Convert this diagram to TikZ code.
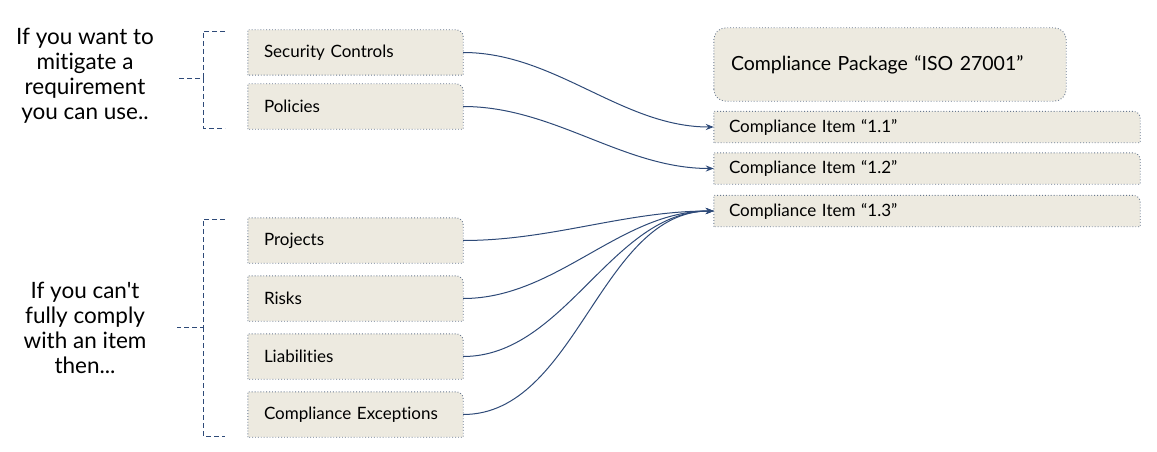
\documentclass[tikz,border=0pt]{standalone}
\usepackage{fontspec}
\setmainfont{Lato}[Ligatures={TeXOff,NoCommon}]
\usetikzlibrary{arrows.meta,positioning,backgrounds}
\definecolor{boxfill}{HTML}{EDEAE0}
\definecolor{linkblue}{HTML}{2E4A78}
\definecolor{edgegray}{HTML}{6A7A90}

\tikzset{
  srcbox/.style={minimum width=215pt, minimum height=45pt, inner sep=0pt,
    text width=183pt, align=left, font=\fontsize{17}{20}\selectfont},
  itembox/.style={minimum width=426pt, minimum height=31pt, inner sep=0pt,
    text width=396pt, align=left, font=\fontsize{17}{20}\selectfont},
  outline/.style={fill=boxfill, draw=edgegray, dotted, line width=0.9pt},
  brace/.style={draw=linkblue, dash pattern=on 5pt off 3pt, line width=0.9pt},
  link/.style={draw=linkblue, line width=1pt, -{Stealth[length=8pt,width=6pt]}},
  note/.style={align=center, font=\fontsize{22.5}{25}\selectfont}
}

\begin{document}
\begin{tikzpicture}[x=1pt,y=-1pt]
  \useasboundingbox (0,0) rectangle (1157,452);

  % Sources on the left
  \node[srcbox] (ctrl) at (355.5,52.5) {Security Controls};
  \node[srcbox] (pol)  at (355.5,106.5) {Policies};
  \node[srcbox] (proj) at (355.5,240.5) {Projects};
  \node[srcbox] (risk) at (355.5,298.5) {Risks};
  \node[srcbox] (liab) at (355.5,356.5) {Liabilities};
  \node[srcbox] (exc)  at (355.5,414.5) {Compliance Exceptions};

  % Package and its items
  \node[minimum width=352pt, minimum height=73pt, inner sep=0pt, text width=318pt,
    align=left, font=\fontsize{19.5}{22}\selectfont] (pkg) at (890,64.5)
    {Compliance Package “ISO 27001”};
  \node[itembox] (i1) at (927,127) {Compliance Item “1.1”};
  \node[itembox] (i2) at (927,168.5) {Compliance Item “1.2”};
  \node[itembox] (i3) at (927,211) {Compliance Item “1.3”};

  % Box outlines behind the texts
  \begin{scope}[on background layer]
    \foreach \n in {ctrl,pol,proj,risk,liab,exc,i1,i2,i3}
      \draw[outline] (\n.south west) -- (\n.north west)
        -- ([xshift=-7pt]\n.north east) arc[start angle=90, end angle=0, radius=7pt]
        -- (\n.south east) -- cycle;
    \draw[outline, rounded corners=12pt] (pkg.south west) rectangle (pkg.north east);
  \end{scope}

  % Notes and braces
  \node[note] (want) at (85,75.5) {If you want to\\mitigate a\\requirement\\you can use..};
  \node[note] (cant) at (85,328) {If you can't\\fully comply\\with an item\\then...};
  \coordinate (b1) at (203,78);
  \coordinate (b2) at (203,327);
  \draw[brace] (225,31) -- (203,31) -- (b1) -- (177,78);
  \draw[brace] (b1) -- (203,128) -- (225,128);
  \draw[brace] (225,219) -- (203,219) -- (b2) -- (177,327);
  \draw[brace] (b2) -- (203,436) -- (225,436);

  % Links
  \draw[link] (ctrl.east) to[out=0, in=180, looseness=0.9] (i1.west);
  \draw[link] (pol.east) to[out=0, in=180, looseness=0.9] (i2.west);
  \foreach \n in {proj,risk,liab,exc}
    \draw[link] (\n.east) to[out=0, in=180, looseness=0.9] (i3.west);
\end{tikzpicture}
\end{document}
